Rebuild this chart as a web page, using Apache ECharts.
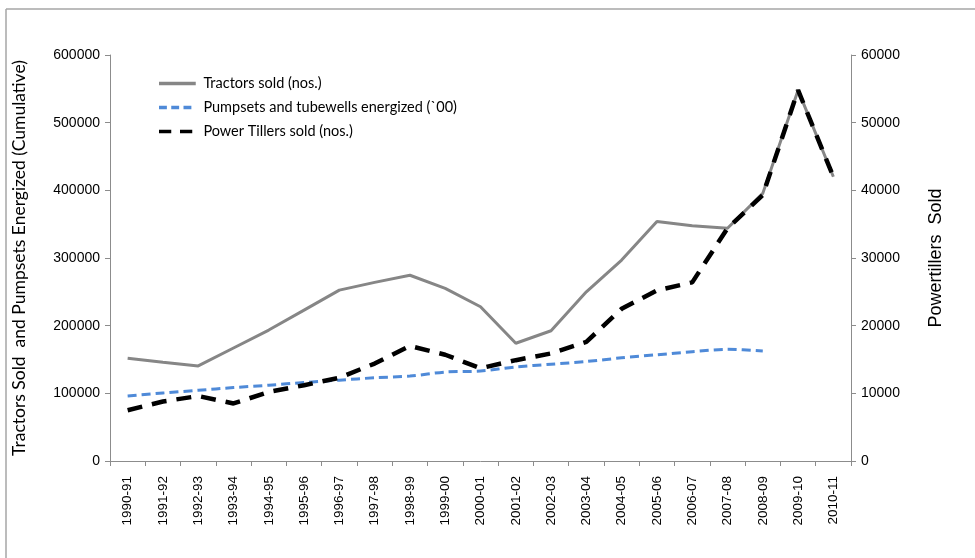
<!DOCTYPE html>
<html>
<head>
<meta charset="utf-8">
<script src="https://cdn.jsdelivr.net/npm/echarts@6/dist/echarts.min.js"></script>
<style>
  html, body { margin: 0; padding: 0; background: #fff; }
  #chartWrapper { width: 975px; height: 558px; }
</style>
</head>
<body>
<div id="chartWrapper"></div>
<script>
let years = ['1990-91', '1991-92', '1992-93', '1993-94', '1994-95', '1995-96', '1996-97',
    '1997-98', '1998-99', '1999-00', '2000-01', '2001-02', '2002-03', '2003-04', '2004-05',
    '2005-06', '2006-07', '2007-08', '2008-09', '2009-10', '2010-11'];

let tractorsSold = [152000, 146000, 140500, 167000, 193500, 223000, 252500, 264000, 274500, 255000,
    228000, 174000, 192500, 250000, 297000, 354000, 347500, 344000, 395500, 548000, 420000];

let pumpsetsEnergized = [96000, 100500, 104500, 108500, 112000, 116000, 119500, 123000, 125500, 131500,
    133000, 139000, 143000, 147000, 152500, 157000, 161500, 165000, 162500, null, null];

let powerTillersSold = [7500, 8800, 9600, 8500, 10200, 11200, 12300, 14400, 17000, 15700,
    13700, 14900, 15900, 17600, 22500, 25200, 26400, 34400, 39300, 54800, 42000];

let legendNames = ['Tractors sold (nos.)', 'Pumpsets and tubewells energized (`00)', 'Power Tillers sold (nos.)'];

let myChart = echarts.init(document.getElementById('chartWrapper'));

let axisGray = '#8c8c8c';
let arialLike = 'Arial, "Liberation Sans", sans-serif';

// legend keys drawn as plain line pieces (solid / short dash / long dash), all in a 42x4 box
let legendIcons = [
    'path://M0,0h42v4h-42z',
    'path://M0,0h9v4h-9z M14,0h9v4h-9z M28,0h9v4h-9z M42,0h0v4h0z',
    'path://M0,0h14v4h-14z M24,0h14v4h-14z M42,0h0v4h0z'
];

let option = {
    animation: false,
    backgroundColor: '#fff',
    // frame left over from the original image crop
    graphic: [
        { type: 'line', shape: { x1: 6, y1: 9, x2: 975, y2: 9 }, style: { stroke: '#a6a6a6', lineWidth: 1.5 } },
        { type: 'line', shape: { x1: 6, y1: 9, x2: 6, y2: 558 }, style: { stroke: '#a6a6a6', lineWidth: 1.5 } }
    ],
    grid: {
        left: 110,
        right: 124,
        top: 55,
        bottom: 97
    },
    legend: {
        orient: 'vertical',
        left: 154,
        top: 71,
        itemWidth: 42,
        itemHeight: 3.5,
        itemGap: 9,
        data: legendNames.map(function (name, i) {
            return { name: name, icon: legendIcons[i] };
        }),
        textStyle: {
            fontFamily: 'Lato',
            fontSize: 14.5,
            color: '#000'
        }
    },
    xAxis: {
        type: 'category',
        data: years,
        boundaryGap: true,
        axisLine: { lineStyle: { color: axisGray } },
        axisTick: { show: true, length: 5, lineStyle: { color: axisGray } },
        axisLabel: {
            rotate: 90,
            interval: 0,
            margin: 15,
            fontFamily: arialLike,
            fontSize: 13.5,
            color: '#000'
        }
    },
    yAxis: [
        {
            type: 'value',
            min: 0,
            max: 600000,
            interval: 100000,
            name: 'Tractors Sold  and Pumpsets Energized (Cumulative)',
            nameLocation: 'middle',
            nameGap: 82,
            nameTextStyle: { fontFamily: 'Lato', fontSize: 17.5, color: '#000' },
            axisLine: { show: true, lineStyle: { color: axisGray } },
            axisTick: { show: true, length: 5, lineStyle: { color: axisGray } },
            splitLine: { show: false },
            axisLabel: {
                fontFamily: arialLike, fontSize: 14, color: '#000', margin: 10,
                formatter: function (v) { return String(v); }
            }
        },
        {
            type: 'value',
            min: 0,
            max: 60000,
            interval: 10000,
            position: 'right',
            name: 'Powertillers  Sold',
            nameLocation: 'middle',
            nameGap: 76,
            nameRotate: 90,
            nameTextStyle: { fontFamily: arialLike, fontSize: 18, color: '#000' },
            axisLine: { show: true, lineStyle: { color: axisGray } },
            axisTick: { show: true, length: 5, lineStyle: { color: axisGray } },
            splitLine: { show: false },
            axisLabel: {
                fontFamily: arialLike, fontSize: 14, color: '#000', margin: 10,
                formatter: function (v) { return String(v); }
            }
        }
    ],
    series: [
        {
            name: legendNames[0],
            type: 'line',
            yAxisIndex: 0,
            data: tractorsSold,
            symbol: 'none',
            color: '#868686',
            lineStyle: { color: '#868686', width: 3 }
        },
        {
            name: legendNames[1],
            type: 'line',
            yAxisIndex: 0,
            data: pumpsetsEnergized,
            symbol: 'none',
            smooth: 0.3,
            color: '#4f8ad8',
            lineStyle: { color: '#4f8ad8', width: 3, type: [9, 5] }
        },
        {
            name: legendNames[2],
            type: 'line',
            yAxisIndex: 1,
            data: powerTillersSold,
            symbol: 'none',
            color: '#000',
            lineStyle: { color: '#000', width: 4.5, type: [15, 10] }
        }
    ]
};

myChart.setOption(option);
</script>
</body>
</html>
